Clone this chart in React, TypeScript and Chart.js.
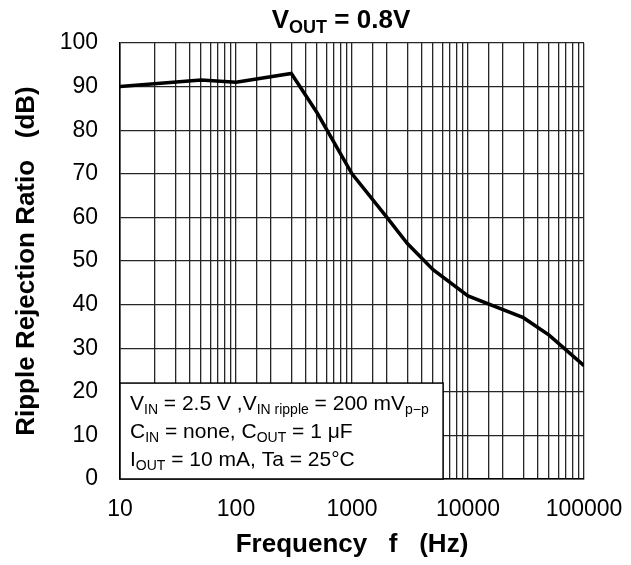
import React, { useEffect, useRef } from "react";
import { Chart, registerables } from "chart.js";

Chart.register(...registerables);

// ---- data ----
const freqsHz = [10, 50, 100, 300, 500, 1000, 2000, 3000, 5000, 10000, 30000, 50000, 100000];
const rippleRejectionDb = [90, 91.5, 91, 93, 84, 70, 60, 54, 48, 42, 37, 33, 26];
const xMajorTicks = [10, 100, 1000, 10000, 100000];
const xTickLabels = ["10", "100", "1000", "10000", "100000"];
const yTickValues = [0, 10, 20, 30, 40, 50, 60, 70, 80, 90, 100];

const titleSegs: [string, boolean][] = [["V", false], ["OUT", true], [" = 0.8V", false]];
const noteLines: [string, boolean][][] = [
  [["V", false], ["IN", true], [" = 2.5 V ,V", false], ["IN ripple", true], [" = 200 mV", false], ["p\u2212p", true]],
  [["C", false], ["IN", true], [" = none, C", false], ["OUT", true], [" = 1 \u03bcF", false]],
  [["I", false], ["OUT", true], [" = 10 mA, Ta = 25\u00b0C", false]],
];
const noteBoxX = [10, 6100];
const noteBoxY = [0, 22];

const FONT = "'Liberation Sans', Arial, Helvetica, sans-serif";

function drawRich(
  ctx: CanvasRenderingContext2D,
  segs: [string, boolean][],
  x: number,
  y: number,
  size: number,
  subSize: number,
  bold: boolean,
  align: "left" | "center"
) {
  const w = bold ? "bold " : "";
  const fN = `${w}${size}px ${FONT}`;
  const fS = `${w}${subSize}px ${FONT}`;
  let total = 0;
  for (const [t, sub] of segs) {
    ctx.font = sub ? fS : fN;
    total += ctx.measureText(t).width;
  }
  let cx = align === "center" ? x - total / 2 : x;
  ctx.textAlign = "left";
  ctx.textBaseline = "alphabetic";
  ctx.fillStyle = "#000";
  for (const [t, sub] of segs) {
    ctx.font = sub ? fS : fN;
    ctx.fillText(t, cx, sub ? y + size * 0.18 : y);
    cx += ctx.measureText(t).width;
  }
}

const overlayPlugin = {
  id: "overlay",
  afterDatasetsDraw(chart: any) {
    const ctx: CanvasRenderingContext2D = chart.ctx;
    const xs = chart.scales.x;
    const ys = chart.scales.y;
    const x0 = xs.getPixelForValue(noteBoxX[0]);
    const x1 = xs.getPixelForValue(noteBoxX[1]);
    const y0 = ys.getPixelForValue(noteBoxY[1]);
    const y1 = ys.getPixelForValue(noteBoxY[0]);
    ctx.save();
    ctx.fillStyle = "#fff";
    ctx.fillRect(x0, y0, x1 - x0, y1 - y0);
    ctx.strokeStyle = "#000";
    ctx.lineWidth = 1.5;
    ctx.strokeRect(x0, y0, x1 - x0, y1 - y0);
    noteLines.forEach((segs, i) => {
      drawRich(ctx, segs, x0 + 10, y0 + 27 + i * 28, 21, 14, false, "left");
    });
    drawRich(ctx, titleSegs, 341, 28, 26, 18, true, "center");
    ctx.restore();
  },
};

export default function App() {
  const ref = useRef<HTMLCanvasElement | null>(null);
  useEffect(() => {
    document.body.style.margin = "0";
    const canvas = ref.current;
    if (!canvas) return;
    const chart = new Chart(canvas, {
      type: "line",
      data: {
        datasets: [
          {
            data: freqsHz.map((f, i) => ({ x: f, y: rippleRejectionDb[i] })),
            borderColor: "#000",
            borderWidth: 3.5,
            pointRadius: 0,
            tension: 0,
            fill: false,
          },
        ],
      },
      options: {
        responsive: false,
        animation: false,
        devicePixelRatio: 1,
        layout: { padding: { top: 43, right: 47, left: 0, bottom: 0 } },
        plugins: { legend: { display: false }, tooltip: { enabled: false }, title: { display: false } },
        scales: {
          x: {
            type: "logarithmic",
            min: 10,
            max: 100000,
            afterFit: (s: any) => {
              s.height = 86;
              s.paddingLeft = 0;
              s.paddingRight = 0;
            },
            grid: { color: "#262626", lineWidth: 1.3, drawTicks: false },
            border: { display: true, color: "#000", width: 1.5 },
            ticks: {
              autoSkip: false,
              maxRotation: 0,
              padding: 17,
              color: "#000",
              font: { family: FONT, size: 23 },
              callback: (v: any) => {
                const idx = xMajorTicks.indexOf(Number(v));
                return idx >= 0 ? xTickLabels[idx] : "";
              },
            },
            title: {
              display: true,
              text: "Frequency   f   (Hz)",
              color: "#000",
              font: { family: FONT, size: 26, weight: "bold" },
              padding: { top: 0, bottom: 5 },
            },
          },
          y: {
            type: "linear",
            min: 0,
            max: 100,
            afterFit: (s: any) => {
              s.width = 120;
              s.paddingTop = 0;
              s.paddingBottom = 0;
            },
            afterBuildTicks: (s: any) => {
              s.ticks = yTickValues.map((v) => ({ value: v }));
            },
            grid: { color: "#262626", lineWidth: 1.3, drawTicks: false },
            border: { display: true, color: "#000", width: 1.5 },
            ticks: {
              padding: 22,
              color: "#000",
              font: { family: FONT, size: 23 },
            },
            title: {
              display: true,
              text: "Ripple Rejection Ratio   (dB)",
              color: "#000",
              font: { family: FONT, size: 26, weight: "bold" },
              padding: { top: 11, bottom: 0 },
            },
          },
        },
      },
      plugins: [overlayPlugin],
    } as any);
    return () => chart.destroy();
  }, []);
  return (
    <div style={{ width: 631, height: 565 }}>
      <canvas ref={ref} width={631} height={565} style={{ display: "block" }} />
    </div>
  );
}
